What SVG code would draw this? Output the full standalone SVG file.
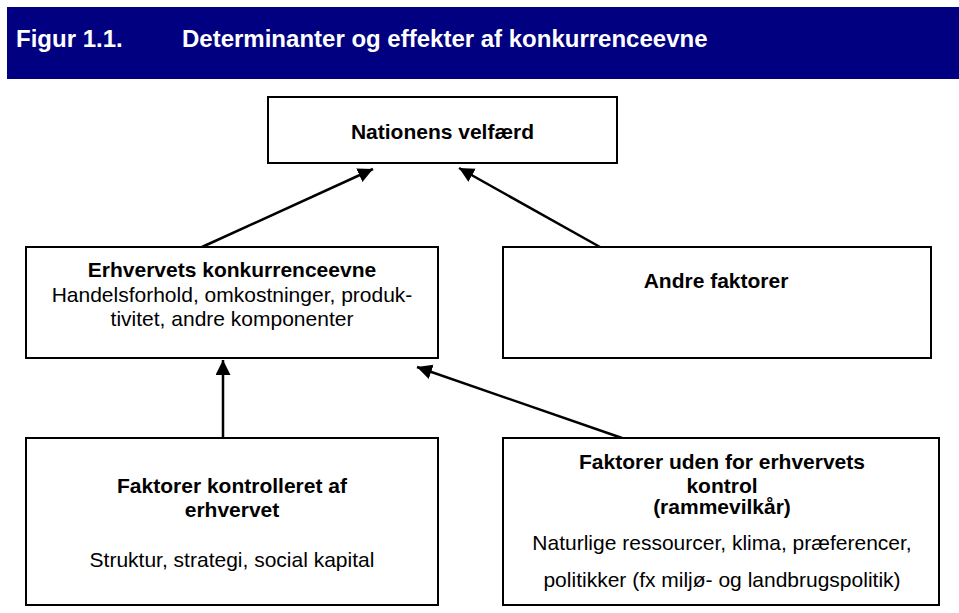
<svg xmlns="http://www.w3.org/2000/svg" width="959" height="613" viewBox="0 0 959 613">
<style>
  .box { fill: #ffffff; stroke: #000000; stroke-width: 2; }
  .b { font-family: "Liberation Sans", Arial, sans-serif; font-weight: bold; font-size: 21px; fill: #000000; text-anchor: middle; }
  .r { font-family: "Liberation Sans", Arial, sans-serif; font-size: 21px; fill: #000000; text-anchor: middle; }
  .title { font-family: "Liberation Sans", Arial, sans-serif; font-weight: bold; font-size: 24px; fill: #ffffff; }
  .conn { stroke: #000000; stroke-width: 2.5; fill: none; marker-end: url(#ah); }
</style>
<defs>
  <marker id="ah" markerUnits="userSpaceOnUse" markerWidth="16" markerHeight="16" refX="15" refY="7.5" orient="auto">
    <path d="M0,0 L15,7.5 L0,15 Z" fill="#000000"/>
  </marker>
</defs>
<rect x="0" y="0" width="959" height="613" fill="#ffffff"/>
<g id="header">
  <rect x="7" y="7" width="952" height="72" fill="#000080"/>
  <text class="title" x="16" y="47">Figur 1.1.</text>
  <text class="title" x="182" y="47">Determinanter og effekter af konkurrenceevne</text>
</g>
<g id="connectors">
  <line class="conn" x1="202" y1="247" x2="373" y2="169"/>
  <line class="conn" x1="600" y1="247" x2="459" y2="168"/>
  <line class="conn" x1="223" y1="438" x2="223" y2="360"/>
  <line class="conn" x1="622" y1="438" x2="417" y2="367"/>
</g>
<g id="node-velfaerd">
  <rect class="box" x="268" y="97" width="349" height="66"/>
  <text class="b" x="442.5" y="139">Nationens velfærd</text>
</g>
<g id="node-konkurrenceevne">
  <rect class="box" x="26" y="247" width="412" height="111"/>
  <text class="b" x="232" y="277">Erhvervets konkurrenceevne</text>
  <text class="r" x="232" y="302">Handelsforhold, omkostninger, produk-</text>
  <text class="r" x="232" y="326">tivitet, andre komponenter</text>
</g>
<g id="node-andre">
  <rect class="box" x="503" y="247" width="428" height="111"/>
  <text class="b" x="716" y="288">Andre faktorer</text>
</g>
<g id="node-kontrolleret">
  <rect class="box" x="26" y="438" width="412" height="167"/>
  <text class="b" x="232" y="493">Faktorer kontrolleret af</text>
  <text class="b" x="232" y="517">erhvervet</text>
  <text class="r" x="232" y="567">Struktur, strategi, social kapital</text>
</g>
<g id="node-rammevilkaar">
  <rect class="box" x="503" y="438" width="436" height="167"/>
  <text class="b" x="722" y="469">Faktorer uden for erhvervets</text>
  <text class="b" x="722" y="493">kontrol</text>
  <text class="b" x="722" y="514">(rammevilkår)</text>
  <text class="r" x="722" y="550">Naturlige ressourcer, klima, præferencer,</text>
  <text class="r" x="722" y="587">politikker (fx miljø- og landbrugspolitik)</text>
</g>
</svg>
